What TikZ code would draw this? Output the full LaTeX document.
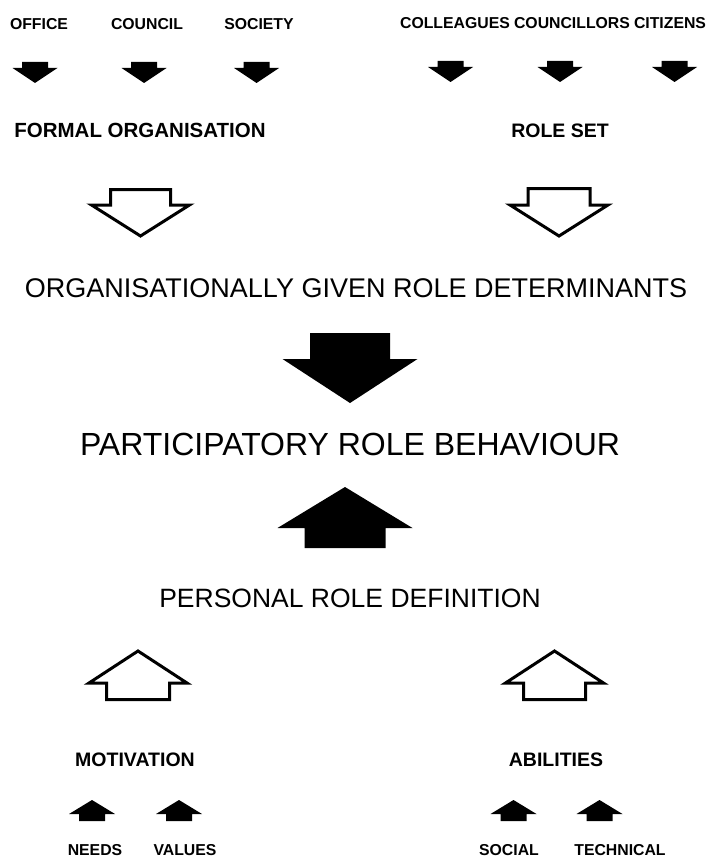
\documentclass[tikz,border=0pt]{standalone}
\usepackage{fontspec}
\setmainfont{Liberation Sans}
\tikzset{
  pics/blockarrow/.style args={#1/#2/#3/#4}{code={
    \path[pic actions] (-#1,0) -- (#1,0) -- (#1,#2) -- (#3,#2) -- (0,{#2+#4})
      -- (-#3,#2) -- (-#1,#2) -- cycle;
  }},
  solidarrow/.style={fill=black},
  openarrow/.style={draw=black, fill=white, line width=3pt},
  smalllabel/.style={inner sep=0pt, font=\bfseries\fontsize{15.8}{18}\selectfont},
  midlabel/.style={inner sep=0pt, font=\bfseries\fontsize{19.5}{22}\selectfont},
  biglabel/.style={inner sep=0pt, font=\fontsize{26.5}{30}\selectfont},
  hugelabel/.style={inner sep=0pt, font=\fontsize{32}{36}\selectfont},
}
\begin{document}
\begin{tikzpicture}[x=1pt, y=-1pt]
      \useasboundingbox (0,0) rectangle (711,864);
      \path[smalllabel]
        (39,24) node (office){OFFICE}
        (147,24) node (council){COUNCIL}
        (259,24) node (society){SOCIETY}
        (455,23) node (colleagues){COLLEAGUES}
        (572,23) node (councillors){COUNCILLORS}
        (670,23) node (citizens){CITIZENS}
        (95,850) node (needs){NEEDS}
        (185,850) node (values){VALUES}
        (509,850) node (social){SOCIAL}
        (620,850) node (technical){TECHNICAL};
      \path[midlabel]
        (140,130) node[font=\bfseries\fontsize{20.5}{23}\selectfont] (formal){FORMAL ORGANISATION}
        (560,131) node (roleset){ROLE SET}
        (135,760) node (motivation){MOTIVATION}
        (556,760) node (abilities){ABILITIES};
      \path[biglabel]
        (356,288) node[font=\fontsize{27}{30}\selectfont] (determinants){ORGANISATIONALLY GIVEN ROLE DETERMINANTS}
        (350,598) node (definition){PERSONAL ROLE DEFINITION};
      \path[hugelabel]
        (350,444) node (behaviour){PARTICIPATORY ROLE BEHAVIOUR};
      % solid arrows
      \pic[solidarrow] at (35,62) {blockarrow=13/6/22.5/15};
      \pic[solidarrow] at (144,62) {blockarrow=13/6/22.5/15};
      \pic[solidarrow] at (256.5,62) {blockarrow=13/6/22.5/15};
      \pic[solidarrow] at (450.5,61) {blockarrow=13/6/22.5/15};
      \pic[solidarrow] at (560,61) {blockarrow=13/6/22.5/15};
      \pic[solidarrow] at (674.5,61) {blockarrow=13/6/22.5/15};
      \pic[solidarrow] at (350,333) {blockarrow=40/26/67.5/44};
      \pic[solidarrow, yscale=-1] at (345,548) {blockarrow=40.5/20/67.5/41};
      \pic[solidarrow, yscale=-1] at (92,821) {blockarrow=13/7/23/14};
      \pic[solidarrow, yscale=-1] at (179,821) {blockarrow=13/7/23/14};
      \pic[solidarrow, yscale=-1] at (513.5,821) {blockarrow=13/7/23/14};
      \pic[solidarrow, yscale=-1] at (599.5,821) {blockarrow=13/7/23/14};
      % open arrows
      \pic[openarrow] at (140.5,189.5) {blockarrow=30/15.5/49/31};
      \pic[openarrow] at (559,188.5) {blockarrow=31/16.5/49/31};
      \pic[openarrow, yscale=-1] at (138,699.5) {blockarrow=31.5/16.5/49/32};
      \pic[openarrow, yscale=-1] at (554.5,699.5) {blockarrow=31/16.5/49/32};
    \end{tikzpicture}
\end{document}
